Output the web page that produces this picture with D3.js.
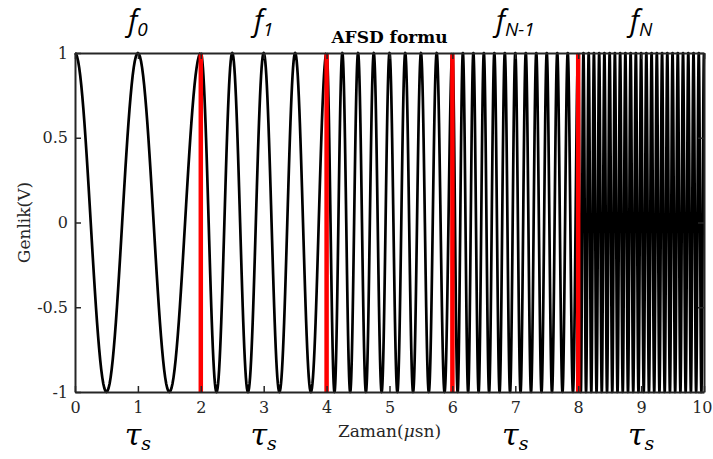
<!DOCTYPE html>
<html>
<head>
<meta charset="utf-8">
<script src="https://cdn.jsdelivr.net/npm/d3@7"></script>
<style>
  html, body { margin: 0; padding: 0; background: #fff; }
  svg { display: block; }
</style>
</head>
<body>
<svg id="chart" width="713" height="459"></svg>
<script>
// Segment boundaries in microseconds and carrier frequency of each segment (MHz)
const segmentStarts = [0, 2, 4, 6, 8];
const segmentEnds   = [2, 4, 6, 8, 10];
const segmentFreqs  = [1, 2, 4, 6, 12];
// Red markers separating the segments
const boundaries = [2, 4, 6, 8];
// Axis ticks
const xTicks = [0, 1, 2, 3, 4, 5, 6, 7, 8, 9, 10];
const yTicks = [-1, -0.5, 0, 0.5, 1];
// Labels above each segment (base, subscript)
const topLabels = [
  { x: 1, base: "f", sub: "0" },
  { x: 3, base: "f", sub: "1" },
  { x: 7, base: "f", sub: "N-1" },
  { x: 9, base: "f", sub: "N" }
];
const bottomLabelX = [1, 3, 7, 9];

const svg = d3.select("#chart");
const margin = { left: 75, right: 9, top: 53, bottom: 67 };
const W = 713, H = 459;
const x = d3.scaleLinear().domain([0, 10]).range([margin.left, W - margin.right]);
const y = d3.scaleLinear().domain([-1, 1]).range([H - margin.bottom, margin.top]);

// Sample the cosine of each segment
const segments = segmentStarts.map((s, i) => {
  const f = segmentFreqs[i];
  const e = segmentEnds[i];
  const n = Math.ceil((e - s) * f * 60);
  return d3.range(n + 1).map(k => {
    const t = s + (e - s) * k / n;
    return [t, Math.cos(2 * Math.PI * f * t)];
  });
});

const line = d3.line().x(d => x(d[0])).y(d => y(d[1]));

svg.append("g").selectAll("path").data(segments).join("path")
  .attr("d", line)
  .attr("fill", "none")
  .attr("stroke", "#000")
  .attr("stroke-width", 2.7)
  .attr("stroke-linejoin", "round");

svg.append("g").selectAll("line").data(boundaries).join("line")
  .attr("x1", d => x(d)).attr("x2", d => x(d))
  .attr("y1", y(-1)).attr("y2", y(1))
  .attr("stroke", "#ff0000")
  .attr("stroke-width", 4.5);

// Axes with inward ticks on all four sides
const axisColor = "#262626";
const tickLen = 6;
const axBottom = svg.append("g").attr("transform", `translate(0,${y(-1)})`)
  .call(d3.axisBottom(x).tickValues(xTicks).tickSizeInner(-tickLen).tickSizeOuter(0).tickFormat(d3.format("d")));
const axTop = svg.append("g").attr("transform", `translate(0,${y(1)})`)
  .call(d3.axisTop(x).tickValues(xTicks).tickSizeInner(-tickLen).tickSizeOuter(0).tickFormat(""));
const axLeft = svg.append("g").attr("transform", `translate(${x(0)},0)`)
  .call(d3.axisLeft(y).tickValues(yTicks).tickSizeInner(-tickLen).tickSizeOuter(0).tickFormat(d => d === 0 ? "0" : String(d)));
const axRight = svg.append("g").attr("transform", `translate(${x(10)},0)`)
  .call(d3.axisRight(y).tickValues(yTicks).tickSizeInner(-tickLen).tickSizeOuter(0).tickFormat(""));

[axBottom, axTop, axLeft, axRight].forEach(g => {
  g.select(".domain").attr("stroke", axisColor).attr("stroke-width", 2);
  g.selectAll(".tick line").attr("stroke", axisColor).attr("stroke-width", 1.5);
  g.selectAll("text")
    .attr("fill", "#262626")
    .style("font-family", "'DejaVu Serif', 'Liberation Serif', serif")
    .style("font-size", "16px");
});
axBottom.selectAll(".tick text").attr("y", 0).attr("dy", "0").attr("transform", "translate(0,21)");
// keep the last label inside the frame
axBottom.selectAll(".tick text").filter(d => d === 10)
  .attr("text-anchor", "end").attr("x", W - 1 - x(10));
axLeft.selectAll(".tick text").attr("x", -7);

// Axis titles
const xTitle = svg.append("text")
  .attr("x", x(5)).attr("y", 437)
  .attr("text-anchor", "middle")
  .attr("fill", "#262626")
  .style("font-family", "'DejaVu Serif', 'Liberation Serif', serif")
  .style("font-size", "17px");
xTitle.append("tspan").text("Zaman(");
xTitle.append("tspan").style("font-style", "italic").text("μ");
xTitle.append("tspan").text("sn)");

svg.append("text")
  .attr("transform", `translate(30,${y(0)}) rotate(-90)`)
  .attr("text-anchor", "middle")
  .attr("fill", "#262626")
  .style("font-family", "'DejaVu Serif', 'Liberation Serif', serif")
  .style("font-size", "17px")
  .text("Genlik(V)");

// Segment labels above the plot
const fl = svg.append("g").selectAll("text").data(topLabels).join("text")
  .attr("x", d => x(d.x)).attr("y", 31)
  .attr("text-anchor", "middle")
  .style("font-family", "'Open Sans', 'Noto Sans', sans-serif")
  .style("font-style", "italic")
  .attr("fill", "#000");
fl.append("tspan").style("font-size", "29px").text(d => d.base);
fl.append("tspan").style("font-size", "19px").attr("dy", 5).text(d => d.sub);

svg.append("text")
  .attr("x", x(5)).attr("y", 43)
  .attr("text-anchor", "middle")
  .style("font-family", "'DejaVu Serif', 'Liberation Serif', serif")
  .style("font-weight", "bold")
  .style("font-size", "17px")
  .attr("fill", "#000")
  .text("AFSD formu");

// Symbol duration labels below the axis
const tl = svg.append("g").selectAll("text").data(bottomLabelX).join("text")
  .attr("x", d => x(d)).attr("y", 445)
  .attr("text-anchor", "middle")
  .style("font-family", "'DejaVu Serif', 'Liberation Serif', serif")
  .style("font-style", "italic")
  .attr("fill", "#000");
tl.append("tspan").style("font-size", "30px").text("τ");
tl.append("tspan").style("font-size", "19px").attr("dy", 5).text("s");
</script>
</body>
</html>
